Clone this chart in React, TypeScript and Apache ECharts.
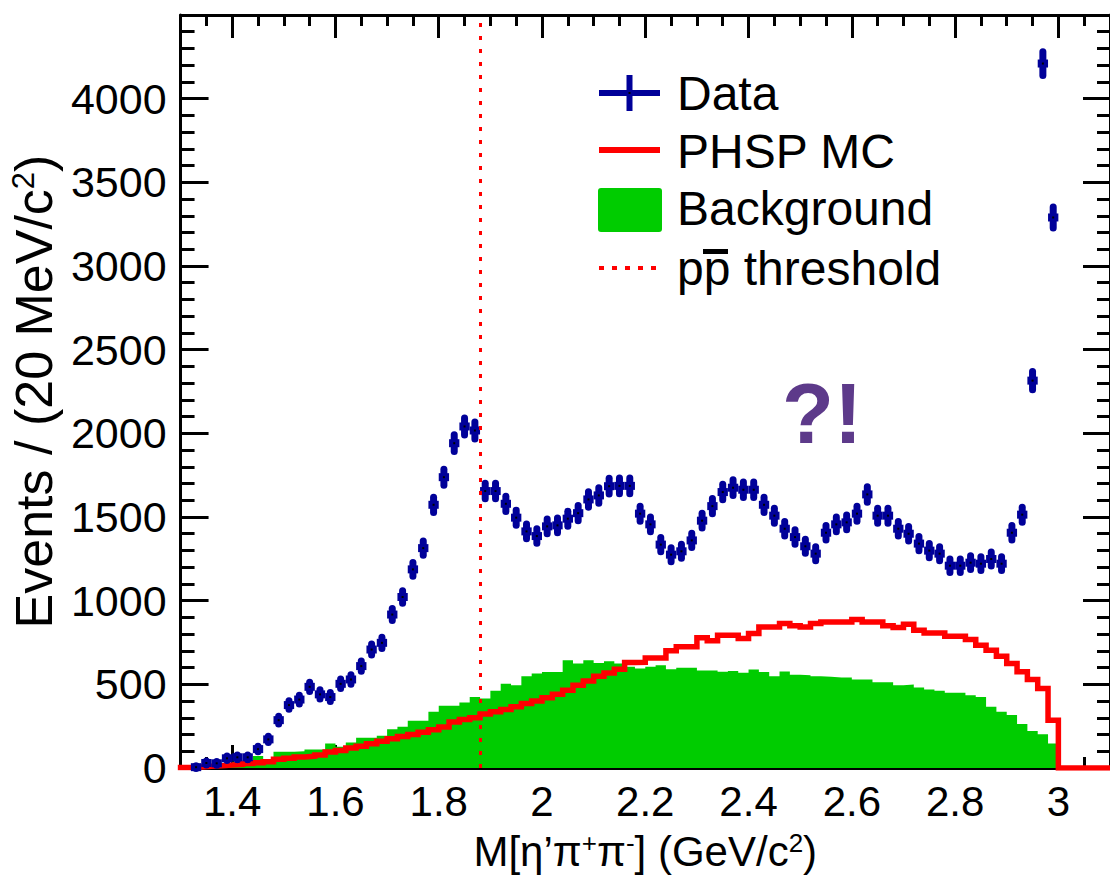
import React, { useEffect, useRef } from "react";
import * as echarts from "echarts";

// Histogram binning (20 MeV/c^2 bins from 1.30 to 3.10 GeV/c^2)
const X_MIN = 1.3;
const X_MAX = 3.1;
const BIN_WIDTH = 0.02;
const PPBAR_THRESHOLD = 1.8765; // 2 m_p

// Data counts per bin (bin centres 1.31, 1.33, ..., 3.09)
const DATA_COUNTS = [
  0, 5, 30, 28, 58, 64, 64, 113, 171, 286,
  376, 409, 485, 440, 424, 503, 529, 609, 708, 748,
  917, 1022, 1187, 1314, 1573, 1738, 1941, 2041, 2017, 1655,
  1655, 1579, 1496, 1414, 1386, 1444, 1450, 1490, 1523, 1605,
  1629, 1684, 1686, 1686, 1520, 1456, 1335, 1275, 1295, 1360,
  1478, 1565, 1649, 1675, 1663, 1663, 1573, 1508, 1430, 1380,
  1325, 1281, 1406, 1456, 1468, 1520, 1635, 1508, 1508, 1430,
  1400, 1341, 1299, 1281, 1209, 1209, 1227, 1221, 1249, 1221,
  1406, 1514, 2315, 4210, 3290, 0, 0, 0, 0, 0,
];

// PHSP MC per bin
const PHSP_MC = [
  3, 6, 10, 14, 18, 22, 27, 32, 38, 52,
  58, 66, 70, 78, 95, 105, 120, 130, 145, 160,
  175, 188, 200, 213, 228, 245, 275, 290, 300, 322,
  336, 350, 366, 385, 400, 420, 440, 465, 495, 520,
  548, 568, 590, 630, 632, 658, 658, 700, 724, 724,
  778, 760, 794, 794, 774, 804, 843, 843, 863, 850,
  843, 863, 873, 873, 873, 887, 873, 873, 850, 839,
  859, 823, 807, 807, 788, 788, 768, 734, 704, 668,
  624, 575, 529, 475, 286, 0, 0, 0, 0, 0,
];

// Background per bin
const BACKGROUND = [
  2, 5, 10, 15, 30, 38, 40, 72, 50, 97,
  97, 100, 111, 111, 147, 127, 153, 181, 181, 193,
  231, 247, 282, 282, 336, 372, 372, 392, 424, 416,
  461, 503, 495, 549, 565, 573, 573, 644, 624, 644,
  628, 638, 625, 605, 595, 605, 614, 590, 599, 599,
  583, 583, 575, 580, 569, 589, 573, 549, 577, 557,
  555, 549, 545, 541, 541, 529, 529, 513, 513, 495,
  499, 481, 469, 461, 449, 449, 435, 425, 366, 336,
  316, 263, 221, 201, 147, 0, 0, 0, 0, 0,
];

const X_MAJOR_TICKS = [1.4, 1.6, 1.8, 2.0, 2.2, 2.4, 2.6, 2.8, 3.0];
const X_MINOR_TICKS = [
  1.3, 1.35, 1.45, 1.5, 1.55, 1.65, 1.7, 1.75, 1.85, 1.9, 1.95, 2.05, 2.1, 2.15,
  2.25, 2.3, 2.35, 2.45, 2.5, 2.55, 2.65, 2.7, 2.75, 2.85, 2.9, 2.95, 3.05, 3.1,
];
const Y_MIN = 0;
const Y_MAX = 4500;
const Y_INTERVAL = 500;

const LEGEND_LABELS = ["Data", "PHSP MC", "Background", "pp threshold"];

const NAVY = "#000099";
const RED = "#ff0000";
const GREEN = "#00cc00";
const PURPLE = "#5d3a8a";
const FONT = "Liberation Sans, Arial, Helvetica, sans-serif";

function binLow(i: number) {
  return X_MIN + i * BIN_WIDTH;
}

function stepPoints(values: number[]) {
  const pts: number[][] = [];
  values.forEach((v, i) => {
    const lo = binLow(i);
    pts.push([lo, v], [lo + BIN_WIDTH, v]);
  });
  return pts;
}

export default function App() {
  const ref = useRef<HTMLDivElement>(null);

  useEffect(() => {
    if (!ref.current) return;
    const chart = echarts.init(ref.current, null, { renderer: "svg" });

    const tickLine = { color: "#000", width: 3 };
    const baseX = {
      type: "value",
      min: X_MIN,
      max: X_MAX,
      splitLine: { show: false },
      axisLine: { onZero: false, show: false },
    };

    const option: any = {
      animation: false,
      backgroundColor: "#fff",
      textStyle: { fontFamily: FONT },
      grid: { left: 177, right: 0, top: 15, bottom: 110, containLabel: false },
      xAxis: [
        {
          ...baseX,
          position: "bottom",
          axisLine: { show: true, onZero: false, lineStyle: tickLine },
          axisTick: { show: true, inside: true, length: 23, lineStyle: tickLine, customValues: X_MAJOR_TICKS },
          axisLabel: {
            show: true,
            customValues: X_MAJOR_TICKS,
            color: "#000",
            fontSize: 42,
            fontFamily: FONT,
            margin: 12,
            formatter: (v: number) => String(Math.round(v * 10) / 10),
          },
          name: "{n|M[η’π}{s|+}{n|π}{s|-}{n|] (GeV/c}{s|2}{n|)}",
          nameLocation: "middle",
          nameGap: 62,
          nameTextStyle: {
            color: "#000",
            rich: {
              n: { fontSize: 42, fontFamily: FONT, color: "#000" },
              s: { fontSize: 26, fontFamily: FONT, color: "#000", verticalAlign: "top" },
            },
          },
        },
        {
          ...baseX,
          position: "bottom",
          axisTick: { show: true, inside: true, length: 11, lineStyle: tickLine, customValues: X_MINOR_TICKS },
          axisLabel: { show: false },
        },
        {
          ...baseX,
          position: "top",
          axisLine: { show: true, onZero: false, lineStyle: tickLine },
          axisTick: { show: true, inside: true, length: 23, lineStyle: tickLine, customValues: X_MAJOR_TICKS },
          axisLabel: { show: false },
        },
        {
          ...baseX,
          position: "top",
          axisTick: { show: true, inside: true, length: 11, lineStyle: tickLine, customValues: X_MINOR_TICKS },
          axisLabel: { show: false },
        },
      ],
      yAxis: [
        {
          type: "value",
          position: "left",
          min: Y_MIN,
          max: Y_MAX,
          interval: Y_INTERVAL,
          splitLine: { show: false },
          axisLine: { show: true, onZero: false, lineStyle: tickLine },
          axisTick: { show: true, inside: true, length: 28, lineStyle: tickLine },
          minorTick: { show: true, splitNumber: 5, length: 14, lineStyle: tickLine },
          axisLabel: {
            color: "#000",
            fontSize: 43,
            fontFamily: FONT,
            margin: 14,
            showMaxLabel: false,
            formatter: (v: number) => (v >= Y_MAX ? "" : String(v)),
          },
          name: "{n|Events / (20 MeV/c}{s|2}{n|)}",
          nameLocation: "middle",
          nameGap: 102,
          nameTextStyle: {
            color: "#000",
            rich: {
              n: { fontSize: 52, fontFamily: FONT, color: "#000" },
              s: { fontSize: 31, fontFamily: FONT, color: "#000", verticalAlign: "top" },
            },
          },
        },
        {
          type: "value",
          position: "right",
          min: Y_MIN,
          max: Y_MAX,
          interval: Y_INTERVAL,
          splitLine: { show: false },
          axisLine: { show: true, onZero: false, lineStyle: tickLine },
          axisTick: { show: true, inside: true, length: 27, lineStyle: tickLine },
          minorTick: { show: true, splitNumber: 5, length: 13, lineStyle: tickLine },
          axisLabel: { show: false },
        },
      ],
      series: [
        {
          name: LEGEND_LABELS[2],
          type: "line",
          xAxisIndex: 0,
          yAxisIndex: 0,
          data: stepPoints(BACKGROUND),
          symbol: "none",
          lineStyle: { width: 0 },
          areaStyle: { color: GREEN, opacity: 1 },
          silent: true,
          z: 1,
        },
        {
          name: LEGEND_LABELS[1],
          type: "line",
          xAxisIndex: 0,
          yAxisIndex: 0,
          data: stepPoints(PHSP_MC),
          symbol: "none",
          lineStyle: { color: RED, width: 5.5, join: "miter", cap: "square" },
          silent: true,
          z: 2,
        },
        {
          name: LEGEND_LABELS[0],
          type: "custom",
          xAxisIndex: 0,
          yAxisIndex: 0,
          data: DATA_COUNTS.map((v, i) => [binLow(i) + BIN_WIDTH / 2, v]),
          encode: { x: 0, y: 1 },
          z: 3,
          silent: true,
          renderItem: (_params: any, api: any) => {
            const x = api.value(0);
            const y = api.value(1);
            if (!(y > 0)) return null;
            const err = Math.sqrt(y);
            const l = api.coord([x - BIN_WIDTH / 2, y]);
            const r = api.coord([x + BIN_WIDTH / 2, y]);
            const lo = api.coord([x, y - err]);
            const hi = api.coord([x, y + err]);
            const c = api.coord([x, y]);
            return {
              type: "group",
              children: [
                { type: "line", shape: { x1: l[0], y1: l[1], x2: r[0], y2: r[1] }, style: { stroke: NAVY, lineWidth: 8, lineCap: "butt" } },
                { type: "line", shape: { x1: lo[0], y1: lo[1] + 1, x2: hi[0], y2: hi[1] - 1 }, style: { stroke: NAVY, lineWidth: 7, lineCap: "round" } },
                { type: "rect", shape: { x: c[0] - 1, y: c[1] - 1, width: 2, height: 2 }, style: { fill: "#000" } },
              ],
            };
          },
        },
        {
          name: LEGEND_LABELS[3],
          type: "line",
          xAxisIndex: 0,
          yAxisIndex: 0,
          data: [],
          symbol: "none",
          silent: true,
          z: 4,
          markLine: {
            silent: true,
            symbol: ["none", "none"],
            label: { show: false },
            lineStyle: { color: RED, width: 3, type: [4, 9] },
            data: [{ xAxis: PPBAR_THRESHOLD }],
          },
        },
      ],
      graphic: [
        {
          type: "group",
          z: 100,
          children: [
            // Data
            { type: "line", shape: { x1: 599, y1: 93, x2: 660, y2: 93 }, style: { stroke: NAVY, lineWidth: 6 } },
            { type: "line", shape: { x1: 629.5, y1: 75, x2: 629.5, y2: 111 }, style: { stroke: NAVY, lineWidth: 6 } },
            { type: "rect", shape: { x: 628.5, y: 92, width: 2, height: 2 }, style: { fill: "#000" } },
            // PHSP MC
            { type: "line", shape: { x1: 599, y1: 150, x2: 660, y2: 150 }, style: { stroke: RED, lineWidth: 6 } },
            // Background
            { type: "rect", shape: { x: 598, y: 188, width: 64, height: 44, r: 3 }, style: { fill: GREEN } },
            // threshold
            { type: "line", shape: { x1: 599, y1: 268, x2: 656, y2: 268 }, style: { stroke: RED, lineWidth: 4, lineDash: [5, 8] } },
            { type: "text", x: 677, y: 93, style: { text: LEGEND_LABELS[0], fontSize: 48, fontFamily: FONT, fill: "#000", verticalAlign: "middle" } },
            { type: "text", x: 677, y: 151, style: { text: LEGEND_LABELS[1], fontSize: 48, fontFamily: FONT, fill: "#000", verticalAlign: "middle" } },
            { type: "text", x: 677, y: 208, style: { text: LEGEND_LABELS[2], fontSize: 48, fontFamily: FONT, fill: "#000", verticalAlign: "middle" } },
            { type: "text", x: 677, y: 268, style: { text: LEGEND_LABELS[3], fontSize: 48, fontFamily: FONT, fill: "#000", verticalAlign: "middle" } },
            // overline of the antiproton
            { type: "rect", shape: { x: 703, y: 249, width: 25, height: 5 }, style: { fill: "#000" } },
            // ?!
            { type: "text", x: 782, y: 413, style: { text: "?!", fontSize: 85, fontWeight: "bold", fontFamily: FONT, fill: PURPLE, verticalAlign: "middle" } },
          ],
        },
      ],
    };

    chart.setOption(option);
    return () => chart.dispose();
  }, []);

  return (
    <div
      ref={ref}
      style={{ position: "absolute", left: 0, top: 0, width: 1110, height: 878, background: "#fff" }}
    />
  );
}
